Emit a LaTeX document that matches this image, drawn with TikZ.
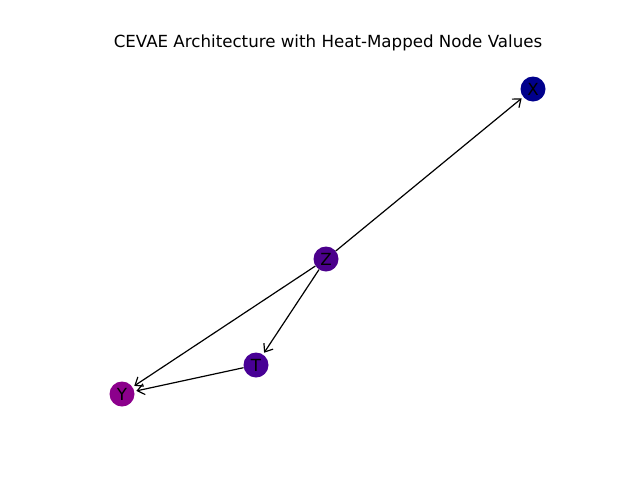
\documentclass[tikz,border=0pt]{standalone}
\usepackage{fontspec}
\setmainfont{DejaVu Sans}
\usetikzlibrary{arrows.meta}
\definecolor{cX}{RGB}{0,0,140}
\definecolor{cZ}{RGB}{75,0,140}
\definecolor{cT}{RGB}{72,0,150}
\definecolor{cY}{RGB}{140,0,140}
\begin{document}
\begin{tikzpicture}[x=1pt,y=-1pt,
  gnode/.style={circle,minimum size=25pt,inner sep=0pt,font=\fontsize{16.67}{18}\selectfont},
  edge/.style={-{Straight Barb[length=7pt,width=11pt]},line width=1.2pt,shorten >=2pt}]
\useasboundingbox (0,0) rectangle (640,480);
\node[font=\fontsize{16.67}{18}\selectfont] (title) at (328,43) {CEVAE Architecture with Heat-Mapped Node Values};
\node[gnode,fill=cX] (X) at (533,89) {X};
\node[gnode,fill=cZ] (Z) at (326,259) {Z};
\node[gnode,fill=cT] (T) at (256,365) {T};
\node[gnode,fill=cY] (Y) at (122,394) {Y};
\draw[edge] (Z) -- (X);
\draw[edge] (Z) -- (T);
\draw[edge] (Z) -- (Y);
\draw[edge] (T) -- (Y);
\end{tikzpicture}
\end{document}
